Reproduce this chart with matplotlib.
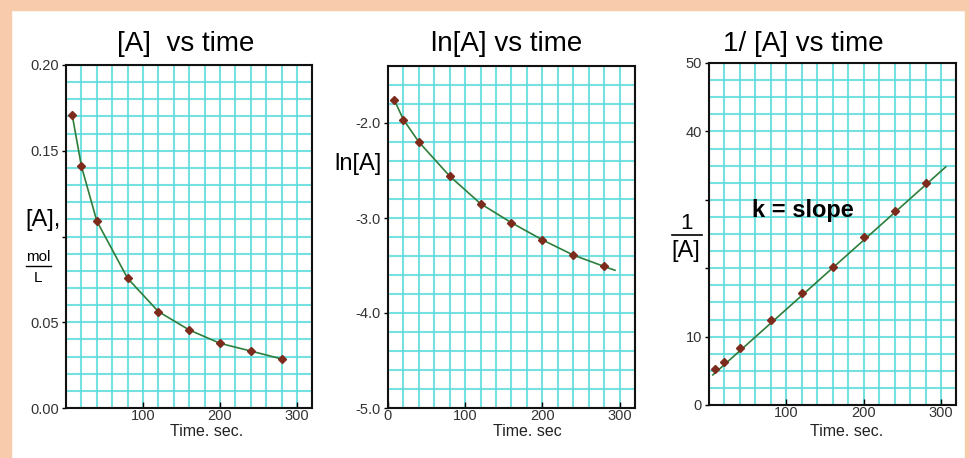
import matplotlib
matplotlib.use('Agg')
import matplotlib.pyplot as plt
from matplotlib.patches import Rectangle
from matplotlib.ticker import MultipleLocator

plt.rcParams['font.family'] = ['Liberation Sans', 'DejaVu Sans']

# data
time = [8, 20, 40, 80, 120, 160, 200, 240, 280]
conc = [0.171, 0.141, 0.109, 0.0756, 0.0562, 0.0455, 0.0377, 0.0332, 0.0286]
ln_conc = [-1.755, -1.965, -2.20, -2.56, -2.85, -3.05, -3.23, -3.39, -3.51]
inv_conc = [5.2, 6.3, 8.3, 12.5, 16.4, 20.2, 24.5, 28.4, 32.5]

# fitted line end points (where the green line runs past the data)
ln_line_end = (294, -3.55)
inv_line_t = [5, 306]
inv_line_y = [4.4, 34.8]

titles = ['[A]  vs time', 'ln[A] vs time', '1/ [A] vs time']
xlabels = ['Time. sec.', 'Time. sec', 'Time. sec.']

W, H = 970, 458
peach = '#f8cbad'
grid_col = '#5edcdc'
mark_col = '#7c2b1d'
line_col = '#2e7d3a'


def fx(px):
    return px / W


def fy(py):
    return 1 - py / H


fig = plt.figure(figsize=(W / 100, H / 100), dpi=100)
fig.patch.set_facecolor('white')

# peach border
fig.patches.append(Rectangle((0, fy(10)), 1, 10 / H, transform=fig.transFigure, color=peach, zorder=0))
fig.patches.append(Rectangle((0, 0), fx(11), 1, transform=fig.transFigure, color=peach, zorder=0))
fig.patches.append(Rectangle((fx(965), 0), fx(5), 1, transform=fig.transFigure, color=peach, zorder=0))

# axes boxes in pixels: left, top, right, bottom
boxes = [(66, 65, 312.5, 408), (388, 66, 635, 408), (709, 63, 956.5, 405)]
axes = []
for (l, t, r, b) in boxes:
    ax = fig.add_axes([fx(l), fy(b), (r - l) / W, (b - t) / H])
    ax.set_xlim(0, 320)
    ax.xaxis.set_minor_locator(MultipleLocator(20))
    ax.grid(True, which='both', color=grid_col, lw=1.5, alpha=0.85)
    ax.set_axisbelow(True)
    for s in ax.spines.values():
        s.set_linewidth(1.5)
        s.set_color('#111111')
    ax.tick_params(axis='y', which='major', direction='out', length=3, width=1, pad=2,
                   labelsize=10.5, labelcolor='#333333')
    ax.tick_params(axis='x', which='major', direction='in', length=4, width=1, pad=0.5,
                   labelsize=10.5, labelcolor='#333333')
    ax.tick_params(which='minor', length=0)
    axes.append(ax)

ax1, ax2, ax3 = axes

# [A] vs time
ax1.set_ylim(0, 0.20)
ax1.yaxis.set_minor_locator(MultipleLocator(0.01))
ax1.set_yticks([0, 0.05, 0.10, 0.15, 0.20])
ax1.set_yticklabels(['0.00', '0.05', '', '0.15', '0.20'])
ax1.set_xticks([100, 200, 300])
ax1.plot(time, conc, color=line_col, lw=1.2, zorder=3)
ax1.plot(time, conc, 'D', color=mark_col, ms=4.5, zorder=4)

# ln[A] vs time
ax2.set_ylim(-5.0, -1.4)
ax2.yaxis.set_minor_locator(MultipleLocator(0.2))
ax2.set_yticks([-5.0, -4.0, -3.0, -2.0])
ax2.set_yticklabels(['-5.0', '-4.0', '-3.0', '-2.0'])
ax2.set_xticks([0, 100, 200, 300])
ax2.plot(time + [ln_line_end[0]], ln_conc + [ln_line_end[1]], color=line_col, lw=1.2, zorder=3)
ax2.plot(time, ln_conc, 'D', color=mark_col, ms=4.5, zorder=4)

# 1/[A] vs time
ax3.set_ylim(0, 50)
ax3.yaxis.set_minor_locator(MultipleLocator(2.5))
ax3.set_yticks([0, 10, 20, 30, 40, 50])
ax3.set_yticklabels(['0', '10', '', '', '40', '50'])
ax3.set_xticks([100, 200, 300])
ax3.plot(inv_line_t, inv_line_y, color=line_col, lw=1.2, zorder=3)
ax3.plot(time, inv_conc, 'D', color=mark_col, ms=4.5, zorder=4)

# titles and axis labels
title_x = [186, 507, 803]
for tx, ttl in zip(title_x, titles):
    fig.text(fx(tx), fy(44), ttl, ha='center', va='center', fontsize=20)

xlab_x = [207, 527, 847]
for lx, lab in zip(xlab_x, xlabels):
    fig.text(fx(lx), fy(432), lab, ha='center', va='center', fontsize=11.5, color='#222222')

fig.text(fx(43), fy(220), '[A],', ha='center', va='center', fontsize=17)
fig.text(fx(38), fy(257), 'mol', ha='center', va='center', fontsize=11)
fig.add_artist(plt.Line2D([fx(26), fx(51)], [fy(266), fy(266)], color='black', lw=1))
fig.text(fx(38), fy(278), 'L', ha='center', va='center', fontsize=11)

fig.text(fx(358), fy(164), 'ln[A]', ha='center', va='center', fontsize=17)

fig.text(fx(686), fy(223), '1', ha='center', va='center', fontsize=16)
fig.add_artist(plt.Line2D([fx(672), fx(702)], [fy(235), fy(235)], color='black', lw=1.2))
fig.text(fx(686), fy(251), '[A]', ha='center', va='center', fontsize=17)

ax3.text(0.38, 0.57, 'k = slope', transform=ax3.transAxes, ha='center', va='center',
         fontsize=17, fontweight='bold')

fig.savefig('out.png', dpi=100)
